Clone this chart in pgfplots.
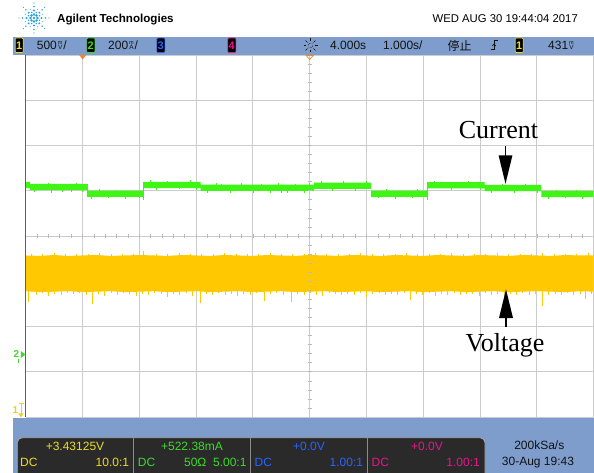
\documentclass[border=0pt]{standalone}
\usepackage{fontspec}
\setmainfont{Liberation Sans}
\newfontfamily\timesfont{Liberation Serif}
\newfontfamily\cjk{Noto Sans CJK SC}
\usepackage{pgfplots}
\pgfplotsset{compat=1.18}

\definecolor{barblue}{RGB}{126,157,204}
\definecolor{panel}{RGB}{42,42,42}
\definecolor{gridgray}{RGB}{204,204,204}
\definecolor{tickgray}{RGB}{185,185,185}
\definecolor{traceyellow}{RGB}{255,200,0}
\definecolor{tracegreen}{RGB}{62,245,20}
\definecolor{chone}{RGB}{235,220,40}
\definecolor{chtwo}{RGB}{60,220,40}
\definecolor{chthree}{RGB}{40,100,255}
\definecolor{chfour}{RGB}{235,20,140}
\definecolor{trigorange}{RGB}{240,138,30}
\definecolor{logoblue}{RGB}{40,160,220}
\definecolor{bartext}{RGB}{18,18,18}

% stacked unit glyph used by the scope, e.g. m over V
\newcommand\ustack[2]{\makebox[6.5pt]{\rlap{\raisebox{5pt}{\makebox[6.5pt]{\fontsize{5.5}{5.5}\selectfont #1}}}\makebox[6.5pt]{\fontsize{6.5}{6.5}\selectfont #2}}}

\tikzset{
  chbox/.style={fill=black, rounded corners=1pt, inner sep=0pt, line width=0.6pt,
    minimum width=8pt, minimum height=14.5pt, font=\fontsize{11}{11}\selectfont\bfseries},
  bartxt/.style={inner sep=0pt, text=bartext, font=\fontsize{12}{12}\selectfont},
  rdtxt/.style={inner sep=0pt, font=\fontsize{12}{12}\selectfont},
}

\begin{document}
\begin{tikzpicture}[x=1pt,y=-1pt]
\useasboundingbox (0,0) rectangle (594,473);
\fill[white] (0,0) rectangle (594,473);

\begin{scope}[y=1pt]
\begin{axis}[
  at={(25.7pt,-417pt)}, anchor=south west,
  scale only axis, width=568pt, height=362pt,
  xmin=-1, xmax=9, ymin=-4, ymax=4,
  xtick={-1,0,...,9}, ytick={-4,-3,...,4},
  xticklabels={}, yticklabels={}, major tick length=0pt,
  grid=major, major grid style={gridgray, line width=0.9pt},
  axis line style={draw=none},
  clip=true,
]
% channel 1: voltage, a wide noisy band
\addplot[fill=traceyellow, draw=none] coordinates {
 (-1,-0.43) (-0.75,-0.44) (-0.5,-0.42) (-0.25,-0.44) (0,-0.43) (0.25,-0.42) (0.5,-0.44)
 (0.75,-0.43) (1,-0.42) (1.25,-0.43) (1.5,-0.44) (1.75,-0.42) (2,-0.43) (2.25,-0.44)
 (2.5,-0.42) (2.75,-0.43) (3,-0.44) (3.25,-0.42) (3.5,-0.43) (3.75,-0.44) (4,-0.42)
 (4.25,-0.43) (4.5,-0.44) (4.75,-0.42) (5,-0.43) (5.25,-0.44) (5.5,-0.42) (5.75,-0.43)
 (6,-0.44) (6.25,-0.42) (6.5,-0.43) (6.75,-0.44) (7,-0.42) (7.25,-0.43) (7.5,-0.44)
 (7.75,-0.42) (8,-0.43) (8.25,-0.44) (8.5,-0.42) (8.75,-0.43) (9,-0.43)
 (9,-1.23) (8.75,-1.22) (8.5,-1.24) (8.25,-1.23) (8,-1.22) (7.75,-1.23) (7.5,-1.24)
 (7.25,-1.22) (7,-1.23) (6.75,-1.24) (6.5,-1.22) (6.25,-1.23) (6,-1.24) (5.75,-1.22)
 (5.5,-1.23) (5.25,-1.24) (5,-1.22) (4.75,-1.23) (4.5,-1.24) (4.25,-1.22) (4,-1.23)
 (3.75,-1.24) (3.5,-1.22) (3.25,-1.23) (3,-1.24) (2.75,-1.22) (2.5,-1.23) (2.25,-1.24)
 (2,-1.22) (1.75,-1.23) (1.5,-1.24) (1.25,-1.22) (1,-1.23) (0.75,-1.24) (0.5,-1.22)
 (0.25,-1.23) (0,-1.24) (-0.25,-1.22) (-0.5,-1.23) (-0.75,-1.24) (-1,-1.22)
} --cycle;
% voltage noise spikes below the band
\addplot[draw=traceyellow, line width=0.7pt, unbounded coords=jump] coordinates {
 (-0.95,-1.2) (-0.95,-1.46) (-0.95,nan) (-0.82,-1.2) (-0.82,-1.30) (-0.82,nan)
 (-0.71,-1.2) (-0.71,-1.27) (-0.71,nan) (-0.60,-1.2) (-0.60,-1.33) (-0.60,nan)
 (-0.49,-1.2) (-0.49,-1.28) (-0.49,nan) (-0.38,-1.2) (-0.38,-1.31) (-0.38,nan)
 (-0.27,-1.2) (-0.27,-1.26) (-0.27,nan) (-0.16,-1.2) (-0.16,-1.29) (-0.16,nan)
 (-0.05,-1.2) (-0.05,-1.27) (-0.05,nan) (0.06,-1.2) (0.06,-1.30) (0.06,nan)
 (0.17,-1.2) (0.17,-1.50) (0.17,nan) (0.28,-1.2) (0.28,-1.28) (0.28,nan)
 (0.39,-1.2) (0.39,-1.32) (0.39,nan) (0.50,-1.2) (0.50,-1.27) (0.50,nan)
 (0.61,-1.2) (0.61,-1.30) (0.61,nan) (0.72,-1.2) (0.72,-1.26) (0.72,nan)
 (0.83,-1.2) (0.83,-1.29) (0.83,nan) (0.94,-1.2) (0.94,-1.33) (0.94,nan)
 (1.05,-1.2) (1.05,-1.28) (1.05,nan) (1.16,-1.2) (1.16,-1.31) (1.16,nan)
 (1.27,-1.2) (1.27,-1.27) (1.27,nan) (1.38,-1.2) (1.38,-1.29) (1.38,nan)
 (1.49,-1.2) (1.49,-1.34) (1.49,nan) (1.60,-1.2) (1.60,-1.28) (1.60,nan)
 (1.71,-1.2) (1.71,-1.30) (1.71,nan) (1.82,-1.2) (1.82,-1.27) (1.82,nan)
 (1.93,-1.2) (1.93,-1.32) (1.93,nan) (2.07,-1.2) (2.07,-1.47) (2.07,nan)
 (2.18,-1.2) (2.18,-1.29) (2.18,nan) (2.29,-1.2) (2.29,-1.31) (2.29,nan)
 (2.40,-1.2) (2.40,-1.27) (2.40,nan) (2.51,-1.2) (2.51,-1.30) (2.51,nan)
 (2.62,-1.2) (2.62,-1.28) (2.62,nan) (2.73,-1.2) (2.73,-1.33) (2.73,nan)
 (2.84,-1.2) (2.84,-1.28) (2.84,nan) (2.95,-1.2) (2.95,-1.30) (2.95,nan)
 (3.06,-1.2) (3.06,-1.27) (3.06,nan) (3.20,-1.2) (3.20,-1.44) (3.20,nan)
 (3.31,-1.2) (3.31,-1.29) (3.31,nan) (3.42,-1.2) (3.42,-1.26) (3.42,nan)
 (3.53,-1.2) (3.53,-1.30) (3.53,nan) (3.68,-1.2) (3.68,-1.45) (3.68,nan)
 (3.79,-1.2) (3.79,-1.28) (3.79,nan) (3.90,-1.2) (3.90,-1.31) (3.90,nan)
 (4.01,-1.2) (4.01,-1.27) (4.01,nan) (4.12,-1.2) (4.12,-1.30) (4.12,nan)
 (4.23,-1.2) (4.23,-1.33) (4.23,nan) (4.34,-1.2) (4.34,-1.27) (4.34,nan)
 (4.45,-1.2) (4.45,-1.29) (4.45,nan) (4.56,-1.2) (4.56,-1.31) (4.56,nan)
 (4.67,-1.2) (4.67,-1.28) (4.67,nan) (4.78,-1.2) (4.78,-1.30) (4.78,nan)
 (4.89,-1.2) (4.89,-1.27) (4.89,nan) (5.00,-1.2) (5.00,-1.34) (5.00,nan)
 (5.11,-1.2) (5.11,-1.29) (5.11,nan) (5.22,-1.2) (5.22,-1.26) (5.22,nan)
 (5.33,-1.2) (5.33,-1.30) (5.33,nan) (5.44,-1.2) (5.44,-1.28) (5.44,nan)
 (5.55,-1.2) (5.55,-1.31) (5.55,nan) (5.66,-1.2) (5.66,-1.27) (5.66,nan)
 (5.77,-1.2) (5.77,-1.42) (5.77,nan) (5.88,-1.2) (5.88,-1.29) (5.88,nan)
 (5.99,-1.2) (5.99,-1.30) (5.99,nan) (6.10,-1.2) (6.10,-1.27) (6.10,nan)
 (6.21,-1.2) (6.21,-1.32) (6.21,nan) (6.32,-1.2) (6.32,-1.28) (6.32,nan)
 (6.43,-1.2) (6.43,-1.30) (6.43,nan) (6.54,-1.2) (6.54,-1.27) (6.54,nan)
 (6.65,-1.2) (6.65,-1.31) (6.65,nan) (6.76,-1.2) (6.76,-1.29) (6.76,nan)
 (6.87,-1.2) (6.87,-1.28) (6.87,nan) (6.98,-1.2) (6.98,-1.33) (6.98,nan)
 (7.09,-1.2) (7.09,-1.27) (7.09,nan) (7.20,-1.2) (7.20,-1.30) (7.20,nan)
 (7.31,-1.2) (7.31,-1.29) (7.31,nan) (7.42,-1.2) (7.42,-1.32) (7.42,nan)
 (7.53,-1.2) (7.53,-1.28) (7.53,nan) (7.64,-1.2) (7.64,-1.30) (7.64,nan)
 (7.75,-1.2) (7.75,-1.27) (7.75,nan) (7.86,-1.2) (7.86,-1.31) (7.86,nan)
 (7.97,-1.2) (7.97,-1.29) (7.97,nan) (8.10,-1.2) (8.10,-1.55) (8.10,nan)
 (8.21,-1.2) (8.21,-1.30) (8.21,nan) (8.32,-1.2) (8.32,-1.28) (8.32,nan)
 (8.43,-1.2) (8.43,-1.31) (8.43,nan) (8.54,-1.2) (8.54,-1.27) (8.54,nan)
 (8.65,-1.2) (8.65,-1.30) (8.65,nan) (8.76,-1.2) (8.76,-1.29) (8.76,nan)
 (8.86,-1.2) (8.86,-1.40) (8.86,nan) (8.96,-1.2) (8.96,-1.28)
};
% voltage noise spikes above the band
\addplot[draw=traceyellow, line width=0.7pt, unbounded coords=jump] coordinates {
 (-0.90,-0.45) (-0.90,-0.39) (-0.90,nan) (-0.70,-0.45) (-0.70,-0.40) (-0.70,nan)
 (-0.50,-0.45) (-0.50,-0.38) (-0.50,nan) (-0.30,-0.45) (-0.30,-0.40) (-0.30,nan)
 (-0.10,-0.45) (-0.10,-0.39) (-0.10,nan) (0.10,-0.45) (0.10,-0.40) (0.10,nan)
 (0.30,-0.45) (0.30,-0.38) (0.30,nan) (0.50,-0.45) (0.50,-0.40) (0.50,nan)
 (0.70,-0.45) (0.70,-0.39) (0.70,nan) (0.90,-0.45) (0.90,-0.40) (0.90,nan)
 (1.07,-0.45) (1.07,-0.34) (1.07,nan) (1.30,-0.45) (1.30,-0.39) (1.30,nan)
 (1.50,-0.45) (1.50,-0.40) (1.50,nan) (1.70,-0.45) (1.70,-0.38) (1.70,nan)
 (1.90,-0.45) (1.90,-0.40) (1.90,nan) (2.10,-0.45) (2.10,-0.39) (2.10,nan)
 (2.30,-0.45) (2.30,-0.40) (2.30,nan) (2.50,-0.45) (2.50,-0.38) (2.50,nan)
 (2.70,-0.45) (2.70,-0.40) (2.70,nan) (2.90,-0.45) (2.90,-0.39) (2.90,nan)
 (3.10,-0.45) (3.10,-0.40) (3.10,nan) (3.30,-0.45) (3.30,-0.38) (3.30,nan)
 (3.50,-0.45) (3.50,-0.40) (3.50,nan) (3.70,-0.45) (3.70,-0.39) (3.70,nan)
 (3.90,-0.45) (3.90,-0.40) (3.90,nan) (4.10,-0.45) (4.10,-0.38) (4.10,nan)
 (4.30,-0.45) (4.30,-0.40) (4.30,nan) (4.50,-0.45) (4.50,-0.39) (4.50,nan)
 (4.70,-0.45) (4.70,-0.40) (4.70,nan) (4.90,-0.45) (4.90,-0.38) (4.90,nan)
 (5.10,-0.45) (5.10,-0.40) (5.10,nan) (5.30,-0.45) (5.30,-0.39) (5.30,nan)
 (5.50,-0.45) (5.50,-0.40) (5.50,nan) (5.70,-0.45) (5.70,-0.38) (5.70,nan)
 (5.90,-0.45) (5.90,-0.40) (5.90,nan) (6.10,-0.45) (6.10,-0.39) (6.10,nan)
 (6.30,-0.45) (6.30,-0.40) (6.30,nan) (6.50,-0.45) (6.50,-0.38) (6.50,nan)
 (6.70,-0.45) (6.70,-0.40) (6.70,nan) (6.90,-0.45) (6.90,-0.39) (6.90,nan)
 (7.10,-0.45) (7.10,-0.40) (7.10,nan) (7.30,-0.45) (7.30,-0.38) (7.30,nan)
 (7.50,-0.45) (7.50,-0.40) (7.50,nan) (7.70,-0.45) (7.70,-0.39) (7.70,nan)
 (7.90,-0.45) (7.90,-0.40) (7.90,nan) (8.10,-0.45) (8.10,-0.38) (8.10,nan)
 (8.30,-0.45) (8.30,-0.40) (8.30,nan) (8.50,-0.45) (8.50,-0.39) (8.50,nan)
 (8.70,-0.45) (8.70,-0.40) (8.70,nan) (8.90,-0.45) (8.90,-0.38)
};
% channel 2: current, stepping between three levels
\addplot[fill=tracegreen, draw=none] coordinates {
 (-1,1.197) (-0.92,1.197) (-0.92,1.153) (0.08,1.153) (0.08,1.005) (1.08,1.005)
 (1.08,1.197) (2.08,1.197) (2.08,1.135) (4.08,1.135) (4.08,1.182) (5.08,1.182)
 (5.08,1.005) (6.08,1.005) (6.08,1.19) (7.08,1.19) (7.08,1.131) (8.08,1.131)
 (8.08,0.998) (9,0.998)
 (9,0.858) (8.08,0.858) (8.08,0.991) (7.08,0.991) (7.08,1.05) (6.08,1.05)
 (6.08,0.865) (5.08,0.865) (5.08,1.042) (4.08,1.042) (4.08,0.995) (2.08,0.995)
 (2.08,1.057) (1.08,1.057) (1.08,0.865) (0.08,0.865) (0.08,1.013) (-0.92,1.013)
 (-0.92,1.057) (-1,1.057)
} --cycle;
% current noise spikes and step edges
\addplot[draw=tracegreen, line width=0.7pt, unbounded coords=jump] coordinates {
 (-0.85,1.083) (-0.85,0.97) (-0.85,nan) (-0.55,1.083) (-0.55,0.96) (-0.55,nan)
 (-0.35,1.083) (-0.35,0.975) (-0.35,nan) (-0.2,1.083) (-0.2,0.97) (-0.2,nan)
 (0.0,1.083) (0.0,0.965) (0.0,nan) (-0.6,1.083) (-0.6,1.18) (-0.6,nan)
 (-0.1,1.083) (-0.1,1.175) (-0.1,nan) (0.08,0.86) (0.08,1.16) (0.08,nan)
 (0.15,0.935) (0.15,0.82) (0.15,nan) (0.45,0.935) (0.45,0.83) (0.45,nan)
 (0.75,0.935) (0.75,0.82) (0.75,nan) (1.0,0.935) (1.0,0.83) (1.0,nan)
 (0.3,0.935) (0.3,1.03) (0.3,nan) (0.6,0.935) (0.6,1.025) (0.6,nan)
 (1.08,0.80) (1.08,1.19) (1.08,nan)
 (1.2,1.127) (1.2,1.23) (1.2,nan) (1.5,1.127) (1.5,1.22) (1.5,nan)
 (1.9,1.127) (1.9,1.23) (1.9,nan) (1.3,1.127) (1.3,1.02) (1.3,nan)
 (1.7,1.127) (1.7,1.03) (1.7,nan) (2.0,1.127) (2.0,1.02) (2.0,nan)
 (2.2,1.065) (2.2,0.95) (2.2,nan) (2.35,1.065) (2.35,1.17) (2.35,nan)
 (2.45,1.065) (2.45,1.16) (2.45,nan) (2.6,1.065) (2.6,0.955) (2.6,nan)
 (2.8,1.065) (2.8,1.165) (2.8,nan) (3.0,1.065) (3.0,0.95) (3.0,nan)
 (3.15,1.065) (3.15,1.16) (3.15,nan) (3.3,1.065) (3.3,0.96) (3.3,nan)
 (3.45,1.065) (3.45,1.165) (3.45,nan) (3.5,1.065) (3.5,0.945) (3.5,nan)
 (3.6,1.065) (3.6,0.95) (3.6,nan) (3.75,1.065) (3.75,1.16) (3.75,nan)
 (3.9,1.065) (3.9,0.955) (3.9,nan) (4.0,1.065) (4.0,1.165) (4.0,nan)
 (4.2,1.112) (4.2,1.21) (4.2,nan) (4.4,1.112) (4.4,1.00) (4.4,nan)
 (4.6,1.112) (4.6,1.21) (4.6,nan) (4.8,1.112) (4.8,1.005) (4.8,nan)
 (5.0,1.112) (5.0,1.21) (5.0,nan)
 (5.2,0.935) (5.2,0.83) (5.2,nan) (5.5,0.935) (5.5,0.82) (5.5,nan)
 (5.8,0.935) (5.8,0.83) (5.8,nan) (5.35,0.935) (5.35,1.03) (5.35,nan)
 (5.9,0.935) (5.9,1.03) (5.9,nan) (6.08,0.80) (6.08,1.20) (6.08,nan)
 (6.2,1.12) (6.2,1.215) (6.2,nan) (6.5,1.12) (6.5,1.01) (6.5,nan)
 (6.8,1.12) (6.8,1.22) (6.8,nan) (7.0,1.12) (7.0,1.01) (7.0,nan)
 (7.2,1.061) (7.2,0.95) (7.2,nan) (7.4,1.061) (7.4,1.16) (7.4,nan)
 (7.6,1.061) (7.6,0.955) (7.6,nan) (7.8,1.061) (7.8,1.16) (7.8,nan)
 (8.0,1.061) (8.0,0.95) (8.0,nan)
 (8.2,0.928) (8.2,0.82) (8.2,nan) (8.5,0.928) (8.5,0.83) (8.5,nan)
 (8.8,0.928) (8.8,0.815) (8.8,nan) (8.35,0.928) (8.35,1.02) (8.35,nan)
 (8.7,0.928) (8.7,1.025)
};
\end{axis}
\end{scope}

% graticule frame and minor ticks on the centre lines
\draw[color=black!62, line width=1.2pt] (25.7,55) -- (25.7,417);
\draw[gridgray, line width=0.9pt] (25.7,417) -- (594,417);
\foreach \i in {1,...,39}
  \draw[tickgray, line width=0.6pt] (307.7,{55+\i*9.05}) -- (311.7,{55+\i*9.05});
\foreach \i in {1,...,49}
  \draw[tickgray, line width=0.6pt] ({25.7+\i*11.36},234) -- ({25.7+\i*11.36},238);

% trigger position markers
\fill[trigorange] (79.2,55) -- (86.2,55) -- (82.7,59.5) -- cycle;
\draw[trigorange, line width=0.7pt] (306.2,55.5) -- (313.2,55.5) -- (309.7,59.5) -- cycle;

% ground reference markers
\node[inner sep=0pt, text=chtwo, font=\fontsize{10}{10}\selectfont\bfseries] at (16.3,354.5) {2};
\fill[chtwo] (20.8,351) -- (25.5,354.5) -- (20.8,358) -- cycle;
\draw[chtwo, line width=0.6pt] (18.5,359) -- (18.5,363);
\node[inner sep=0pt, text=chone!85!orange, font=\fontsize{10}{10}\selectfont\bfseries] at (15.3,410) {1};
\draw[chone!85!orange, line width=0.8pt] (18.5,403.2) -- (23.5,403.2) (21,403.2) -- (21,413.5);
\fill[chone!85!orange] (18.3,413.3) -- (23.7,413.3) -- (21,417.5) -- cycle;

% annotations
\node[anchor=base, inner sep=0pt, font=\timesfont\fontsize{26}{26}\selectfont] at (498.5,139) {Current};
\draw[line width=1.8pt] (505.5,146.5) -- (505.5,158);
\fill (498.6,155.5) -- (512.4,155.5) -- (505.5,183.8) -- cycle;
\node[anchor=base, inner sep=0pt, font=\timesfont\fontsize{26}{26}\selectfont] at (505,351.5) {Voltage};
\draw[line width=1.8pt] (506,327) -- (506,315);
\fill (499,318) -- (513,318) -- (506,289.3) -- cycle;

% top status bar
\fill[barblue] (13,37) rectangle (594,55);
\node[chbox, draw=chone, text=chone] at (19.2,45.3) {1};
\node[bartxt, anchor=base west] at (36.7,50) {500\ustack{m}{V}/};
\node[chbox, draw=chtwo, text=chtwo] at (90.8,45.3) {2};
\node[bartxt, anchor=base west] at (108,50) {200\ustack{m}{A}/};
\node[chbox, draw=chthree, text=chthree] at (160.8,45.3) {3};
\node[chbox, draw=chfour, text=chfour] at (231.8,45.3) {4};
\draw[bartext, line width=0.5pt, densely dotted] (310.5,45.5) circle (2.4pt);
\foreach \a in {0,45,...,315}
  \draw[bartext, line width=0.6pt] ({310.5+4.2*cos(\a)},{45.5+4.2*sin(\a)}) -- ({310.5+7*cos(\a)},{45.5+7*sin(\a)});
\node[bartxt, anchor=base west] at (330,50) {4.000s};
\node[bartxt, anchor=base west] at (383,50) {1.000s/};
\node[bartxt, anchor=base west, font=\cjk\fontsize{12}{12}\selectfont] at (447.5,50.5) {停止};
\draw[bartext, line width=0.8pt] (490.5,49.5) -- (494,49.5) -- (494,40.5) -- (497.5,40.5);
\draw[bartext, line width=0.6pt] (492.2,46) -- (494,44) -- (495.8,46);
\node[chbox, draw=chone, text=chone] at (519.2,45.3) {1};
\node[bartxt, anchor=base west] at (548,50) {431\ustack{m}{V}};

% header
\foreach \a in {0,45,...,315} {
  \fill[logoblue] ({34+3.5*cos(\a)},{18+3.5*sin(\a)}) circle (1.3pt);
  \fill[logoblue] ({34+7.5*cos(\a)},{18+7.5*sin(\a)}) circle (1.05pt);
  \fill[logoblue] ({34+11.5*cos(\a)},{18+11.5*sin(\a)}) circle (0.8pt);
  \fill[logoblue] ({34+15*cos(\a)},{18+15*sin(\a)}) circle (0.55pt);
}
\foreach \a in {22.5,67.5,...,337.5} {
  \fill[logoblue] ({34+6*cos(\a)},{18+6*sin(\a)}) circle (0.8pt);
  \fill[logoblue] ({34+9.5*cos(\a)},{18+9.5*sin(\a)}) circle (0.55pt);
}
\fill[logoblue] (34,18) circle (1.4pt);
\node[anchor=base west, inner sep=0pt, font=\fontsize{11.6}{11.6}\selectfont\bfseries] at (57,22.7) {Agilent Technologies};
\node[anchor=base east, inner sep=0pt, font=\fontsize{11.3}{11.3}\selectfont] at (578,22.7) {WED AUG 30 19:44:04 2017};

% bottom measurement bar
\begin{scope}
\clip (0,0) rectangle (594,473);
\fill[barblue] (13,417.6) rectangle (594,473);
\filldraw[fill=panel, draw=black!35, line width=0.8pt, rounded corners=5pt] (17.3,437.7) rectangle (485,485);
\draw[black!45, line width=0.8pt] (133.3,437.7) -- (133.3,473) (250.3,437.7) -- (250.3,473) (367.3,437.7) -- (367.3,473);
\end{scope}
\node[rdtxt, text=chone, anchor=base] at (75,450.7) {+3.43125V};
\node[rdtxt, text=chone, anchor=base west] at (20,466.7) {DC};
\node[rdtxt, text=chone, anchor=base east] at (129.3,466.7) {10.0:1};
\node[rdtxt, text=chtwo, anchor=base] at (192,450.7) {+522.38mA};
\node[rdtxt, text=chtwo, anchor=base west] at (137.7,466.7) {DC};
\node[rdtxt, text=chtwo, anchor=base east] at (246.7,466.7) {50Ω\ \ 5.00:1};
\node[rdtxt, text=chthree, anchor=base] at (309,450.7) {+0.0V};
\node[rdtxt, text=chthree, anchor=base west] at (254.5,466.7) {DC};
\node[rdtxt, text=chthree, anchor=base east] at (363.3,466.7) {1.00:1};
\node[rdtxt, text=chfour, anchor=base] at (427,450.7) {+0.0V};
\node[rdtxt, text=chfour, anchor=base west] at (371.5,466.7) {DC};
\node[rdtxt, text=chfour, anchor=base east] at (480,466.7) {1.00:1};
\node[bartxt, anchor=base] at (539.3,449.3) {200kSa/s};
\node[bartxt, anchor=base] at (538,465) {30-Aug 19:43};
\end{tikzpicture}
\end{document}
